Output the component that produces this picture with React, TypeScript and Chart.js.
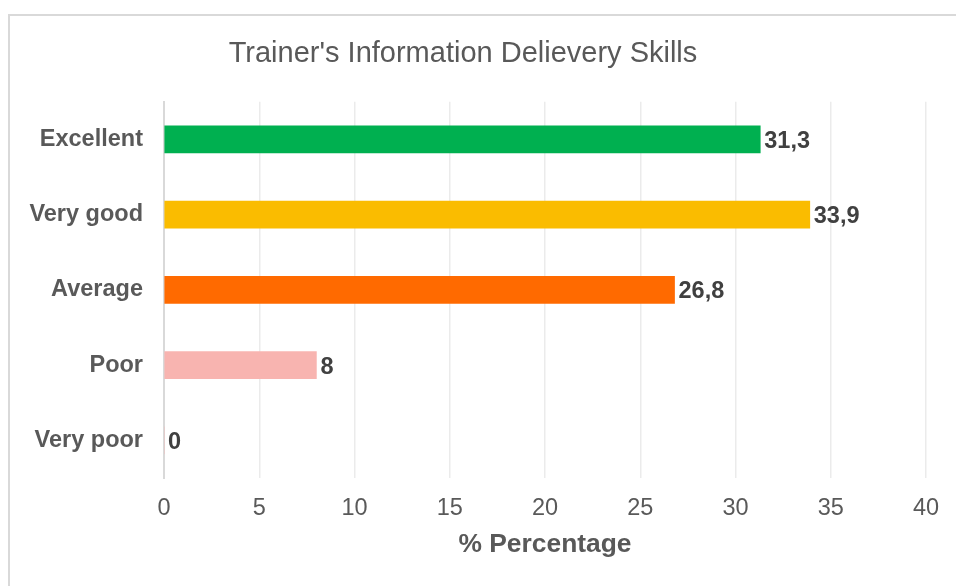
import React, { useEffect, useRef } from "react";
import { Chart, registerables } from "chart.js";

Chart.register(...registerables);

const categories = ["Excellent", "Very good", "Average", "Poor", "Very poor"];
const values = [31.3, 33.9, 26.8, 8, 0];
const valueLabels = ["31,3", "33,9", "26,8", "8", "0"];
const barColors = ["#00B050", "#FABC00", "#FF6A00", "#F8B4B0", "#F8B4B0"];
const chartTitle = "Trainer's Information Delievery Skills";
const xAxisTitle = "% Percentage";

const FONT = "'Liberation Sans', Arial, sans-serif";

export default function App() {
  const ref = useRef<HTMLCanvasElement | null>(null);

  useEffect(() => {
    document.body.style.margin = "0";
    const canvas = ref.current;
    if (!canvas) return;

    const borderPlugin = {
      id: "outerBorder",
      beforeDraw(chart: any) {
        const ctx = chart.ctx;
        ctx.save();
        ctx.fillStyle = "#FFFFFF";
        ctx.fillRect(0, 0, chart.width, chart.height);
        ctx.strokeStyle = "#D9D9D9";
        ctx.lineWidth = 2;
        ctx.strokeRect(9, 15, 1200, 1200);
        ctx.restore();
      },
    };

    const labelPlugin = {
      id: "valueLabels",
      afterDatasetsDraw(chart: any) {
        const ctx = chart.ctx;
        const meta = chart.getDatasetMeta(0);
        ctx.save();
        ctx.font = `bold 23.5px ${FONT}`;
        ctx.fillStyle = "#404040";
        ctx.textAlign = "left";
        ctx.textBaseline = "middle";
        meta.data.forEach((bar: any, i: number) => {
          ctx.fillText(valueLabels[i], bar.x + 4, bar.y + 2);
        });
        ctx.restore();
      },
    };

    const chart = new Chart(canvas, {
      type: "bar",
      data: {
        labels: categories,
        datasets: [
          {
            data: values,
            backgroundColor: barColors,
            barThickness: 27,
            borderWidth: 0,
          },
        ],
      },
      options: {
        indexAxis: "y",
        responsive: false,
        animation: false,
        layout: { padding: { left: 0, right: 30, top: 0, bottom: 0 } },
        plugins: {
          legend: { display: false },
          tooltip: { enabled: false },
          title: {
            display: true,
            text: chartTitle,
            color: "#595959",
            font: { family: FONT, size: 29, weight: "normal" },
            padding: { top: 37, bottom: 30 },
          },
        },
        scales: {
          x: {
            min: 0,
            max: 40,
            ticks: {
              stepSize: 5,
              color: "#595959",
              font: { family: FONT, size: 23.5 },
              padding: 16,
            },
            grid: { display: true, color: "#EBEBEB", lineWidth: 1.5, drawTicks: false },
            border: { display: false },
            title: {
              display: true,
              text: xAxisTitle,
              color: "#595959",
              font: { family: FONT, size: 26.4, weight: "bold" },
              padding: { top: 0, bottom: 25 },
            },
            afterFit(scale: any) {
              scale.height = 108;
            },
          },
          y: {
            ticks: {
              color: "#595959",
              font: { family: FONT, size: 23.5, weight: "bold" },
              padding: 21,
            },
            grid: { display: false, drawTicks: false },
            border: { display: true, color: "#D9D9D9", width: 2 },
            afterFit(scale: any) {
              scale.width = 164;
            },
          },
        },
      },
      plugins: [borderPlugin, labelPlugin],
    });

    return () => chart.destroy();
  }, []);

  return (
    <div style={{ position: "fixed", left: 0, top: 0, width: 956, height: 586 }}>
      <canvas ref={ref} width={956} height={586} style={{ display: "block" }} />
    </div>
  );
}
